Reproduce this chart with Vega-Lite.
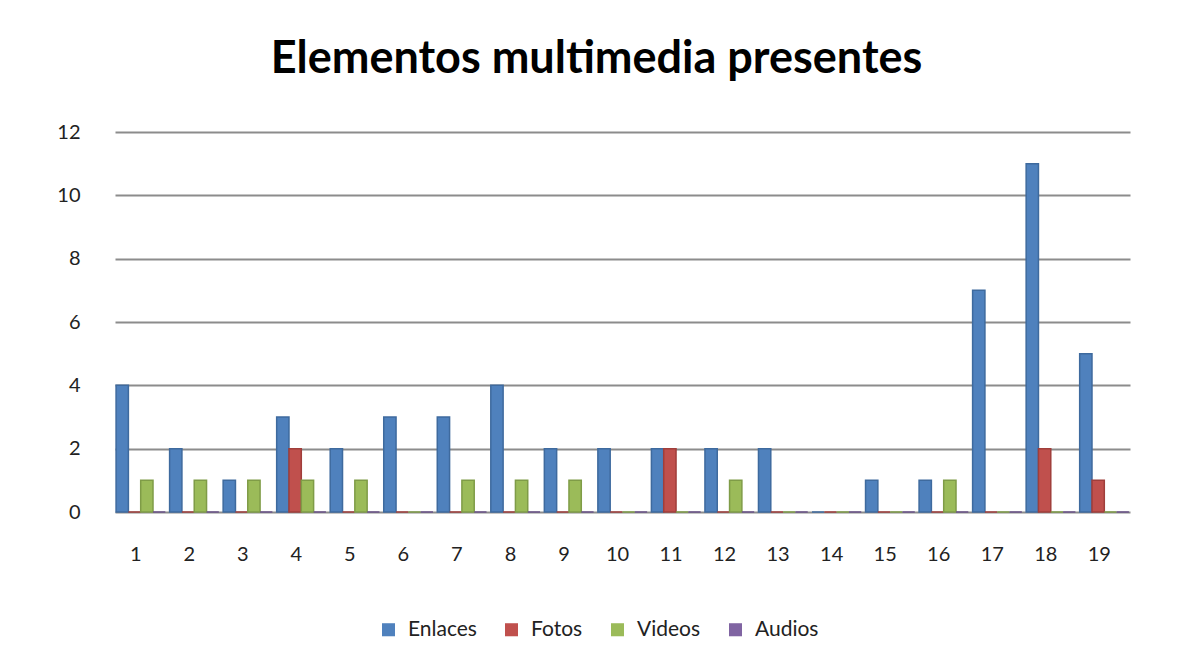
{
  "$schema": "https://vega.github.io/schema/vega-lite/v6.json",
  "autosize": {"type": "none"},
  "width": 1015,
  "height": 380,
  "padding": {"left": 115, "top": 132, "right": 51, "bottom": 152},
  "background": "white",
  "title": {
    "text": "Elementos multimedia presentes",
    "font": "Lato",
    "fontSize": 45,
    "fontWeight": "bold",
    "color": "#000000",
    "anchor": "middle",
    "dx": -26,
    "offset": 40
  },
  "data": {
    "values": [
      {"cat": 1, "series": "Enlaces", "value": 4}, {"cat": 1, "series": "Fotos", "value": 0}, {"cat": 1, "series": "Videos", "value": 1}, {"cat": 1, "series": "Audios", "value": 0},
      {"cat": 2, "series": "Enlaces", "value": 2}, {"cat": 2, "series": "Fotos", "value": 0}, {"cat": 2, "series": "Videos", "value": 1}, {"cat": 2, "series": "Audios", "value": 0},
      {"cat": 3, "series": "Enlaces", "value": 1}, {"cat": 3, "series": "Fotos", "value": 0}, {"cat": 3, "series": "Videos", "value": 1}, {"cat": 3, "series": "Audios", "value": 0},
      {"cat": 4, "series": "Enlaces", "value": 3}, {"cat": 4, "series": "Fotos", "value": 2}, {"cat": 4, "series": "Videos", "value": 1}, {"cat": 4, "series": "Audios", "value": 0},
      {"cat": 5, "series": "Enlaces", "value": 2}, {"cat": 5, "series": "Fotos", "value": 0}, {"cat": 5, "series": "Videos", "value": 1}, {"cat": 5, "series": "Audios", "value": 0},
      {"cat": 6, "series": "Enlaces", "value": 3}, {"cat": 6, "series": "Fotos", "value": 0}, {"cat": 6, "series": "Videos", "value": 0}, {"cat": 6, "series": "Audios", "value": 0},
      {"cat": 7, "series": "Enlaces", "value": 3}, {"cat": 7, "series": "Fotos", "value": 0}, {"cat": 7, "series": "Videos", "value": 1}, {"cat": 7, "series": "Audios", "value": 0},
      {"cat": 8, "series": "Enlaces", "value": 4}, {"cat": 8, "series": "Fotos", "value": 0}, {"cat": 8, "series": "Videos", "value": 1}, {"cat": 8, "series": "Audios", "value": 0},
      {"cat": 9, "series": "Enlaces", "value": 2}, {"cat": 9, "series": "Fotos", "value": 0}, {"cat": 9, "series": "Videos", "value": 1}, {"cat": 9, "series": "Audios", "value": 0},
      {"cat": 10, "series": "Enlaces", "value": 2}, {"cat": 10, "series": "Fotos", "value": 0}, {"cat": 10, "series": "Videos", "value": 0}, {"cat": 10, "series": "Audios", "value": 0},
      {"cat": 11, "series": "Enlaces", "value": 2}, {"cat": 11, "series": "Fotos", "value": 2}, {"cat": 11, "series": "Videos", "value": 0}, {"cat": 11, "series": "Audios", "value": 0},
      {"cat": 12, "series": "Enlaces", "value": 2}, {"cat": 12, "series": "Fotos", "value": 0}, {"cat": 12, "series": "Videos", "value": 1}, {"cat": 12, "series": "Audios", "value": 0},
      {"cat": 13, "series": "Enlaces", "value": 2}, {"cat": 13, "series": "Fotos", "value": 0}, {"cat": 13, "series": "Videos", "value": 0}, {"cat": 13, "series": "Audios", "value": 0},
      {"cat": 14, "series": "Enlaces", "value": 0}, {"cat": 14, "series": "Fotos", "value": 0}, {"cat": 14, "series": "Videos", "value": 0}, {"cat": 14, "series": "Audios", "value": 0},
      {"cat": 15, "series": "Enlaces", "value": 1}, {"cat": 15, "series": "Fotos", "value": 0}, {"cat": 15, "series": "Videos", "value": 0}, {"cat": 15, "series": "Audios", "value": 0},
      {"cat": 16, "series": "Enlaces", "value": 1}, {"cat": 16, "series": "Fotos", "value": 0}, {"cat": 16, "series": "Videos", "value": 1}, {"cat": 16, "series": "Audios", "value": 0},
      {"cat": 17, "series": "Enlaces", "value": 7}, {"cat": 17, "series": "Fotos", "value": 0}, {"cat": 17, "series": "Videos", "value": 0}, {"cat": 17, "series": "Audios", "value": 0},
      {"cat": 18, "series": "Enlaces", "value": 11}, {"cat": 18, "series": "Fotos", "value": 2}, {"cat": 18, "series": "Videos", "value": 0}, {"cat": 18, "series": "Audios", "value": 0},
      {"cat": 19, "series": "Enlaces", "value": 5}, {"cat": 19, "series": "Fotos", "value": 1}, {"cat": 19, "series": "Videos", "value": 0}, {"cat": 19, "series": "Audios", "value": 0}
    ]
  },
  "mark": {"type": "bar", "strokeWidth": 1.5},
  "encoding": {
    "x": {
      "field": "cat",
      "type": "ordinal",
      "title": null,
      "scale": {"paddingInner": 0.08, "paddingOuter": 0.02},
      "axis": {
        "labelAngle": 0,
        "labelFont": "Lato",
        "labelFontSize": 20,
        "labelColor": "#222222",
        "labelPadding": 32,
        "labelOffset": -5,
        "domain": false,
        "ticks": false,
        "grid": false
      }
    },
    "xOffset": {
      "field": "series",
      "type": "nominal",
      "sort": ["Enlaces", "Fotos", "Videos", "Audios"],
      "scale": {"paddingInner": 0}
    },
    "y": {
      "field": "value",
      "type": "quantitative",
      "title": null,
      "scale": {"domain": [0, 12]},
      "axis": {
        "values": [0, 2, 4, 6, 8, 10, 12],
        "labelFont": "Lato",
        "labelFontSize": 20,
        "labelColor": "#222222",
        "labelPadding": 35,
        "domain": false,
        "ticks": false,
        "grid": true,
        "gridColor": "#8c8c8c",
        "gridWidth": 2
      }
    },
    "color": {
      "field": "series",
      "type": "nominal",
      "sort": ["Enlaces", "Fotos", "Videos", "Audios"],
      "scale": {
        "domain": ["Enlaces", "Fotos", "Videos", "Audios"],
        "range": ["#4F81BD", "#C0504D", "#9BBB59", "#8064A2"]
      },
      "legend": {
        "title": null,
        "orient": "none",
        "direction": "horizontal",
        "legendX": 263,
        "legendY": 487,
        "symbolType": "square",
        "symbolSize": 170,
        "symbolStrokeWidth": 0,
        "labelFont": "Lato",
        "labelFontSize": 21,
        "labelColor": "#222222",
        "columnPadding": 24,
        "labelOffset": 9
      }
    },
    "stroke": {
      "field": "series",
      "type": "nominal",
      "scale": {
        "domain": ["Enlaces", "Fotos", "Videos", "Audios"],
        "range": ["#3E6A9E", "#A03E3B", "#7F9C47", "#6A5288"]
      },
      "legend": null
    }
  },
  "config": {
    "view": {"stroke": null}
  }
}
